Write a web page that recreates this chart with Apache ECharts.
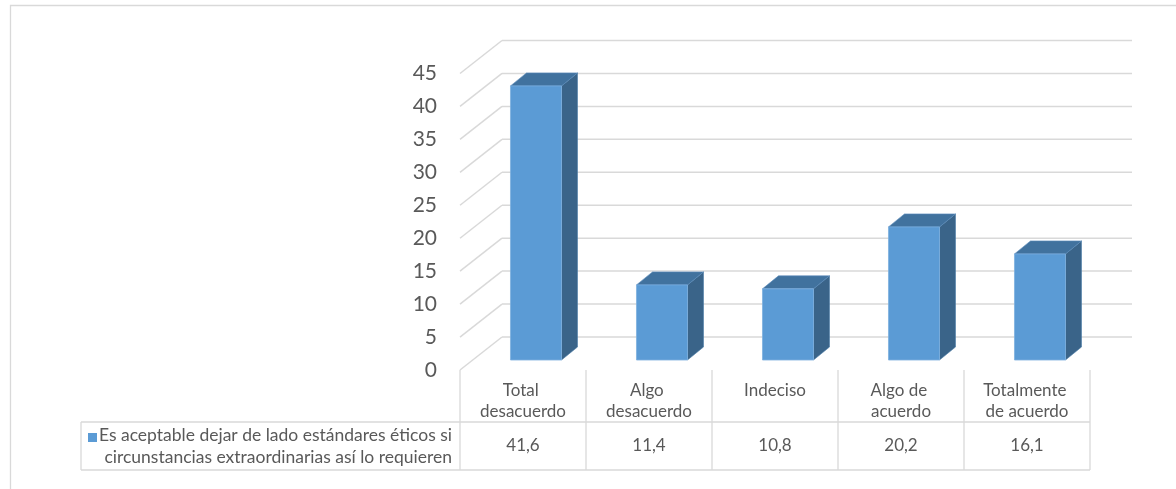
<!DOCTYPE html>
<html>
<head>
<meta charset="utf-8">
<script src="https://cdn.jsdelivr.net/npm/echarts@6/dist/echarts.min.js"></script>
<style>
  html, body { margin: 0; padding: 0; background: #ffffff; }
  #chart { width: 1176px; height: 489px; }
</style>
</head>
<body>
<div id="chart"></div>
<script>
// Survey responses (percent)
const categories = ['Total desacuerdo', 'Algo desacuerdo', 'Indeciso', 'Algo de acuerdo', 'Totalmente de acuerdo'];
const values = [41.6, 11.4, 10.8, 20.2, 16.1];
const seriesLines = ['Es aceptable dejar de lado estándares éticos si', 'circunstancias extraordinarias así lo requieren'];
const yTicks = [0, 5, 10, 15, 20, 25, 30, 35, 40, 45];

const FONT = 'Lato, "Open Sans", sans-serif';
const TEXT = '#595959';
const GRIDC = '#D9D9D9';
const BAR_FRONT = '#5B9BD5';
const BAR_SIDE = '#3A6489';
const BAR_TOP = '#41729E';

// pseudo-3D depth: wall depth and the slice of it that each bar occupies
const WALL = { dx: 42, dy: -33 };
const FACE = { dx: 13, dy: -10 };
const BACK = { dx: 29, dy: -23 };

const fmt = v => String(v).replace('.', ',');

const chart = echarts.init(document.getElementById('chart'), null, { renderer: 'canvas' });

function renderBar(params, api) {
  const i = api.value(0), v = api.value(1);
  const top = api.coord([i, v]);
  const base = api.coord([i, 0]);
  const bw = api.size([1, 0])[0] * 0.405;
  const xL = top[0] - bw / 2 + FACE.dx, xR = top[0] + bw / 2 + FACE.dx;
  const yT = top[1] + FACE.dy, yB = base[1] + FACE.dy;
  const ddx = BACK.dx - FACE.dx, ddy = BACK.dy - FACE.dy;
  return {
    type: 'group',
    children: [
      { type: 'polygon', shape: { points: [[xR, yT], [xR + ddx, yT + ddy], [xR + ddx, yB + ddy], [xR, yB]] },
        style: { fill: BAR_SIDE, stroke: '#4E7DA8', lineWidth: 0.6 } },
      { type: 'polygon', shape: { points: [[xL, yT], [xL + ddx, yT + ddy], [xR + ddx, yT + ddy], [xR, yT]] },
        style: { fill: BAR_TOP, stroke: '#5A8CBC', lineWidth: 0.6 } },
      { type: 'rect', shape: { x: xL, y: yT, width: bw, height: yB - yT },
        style: { fill: BAR_FRONT, stroke: '#7DB0E0', lineWidth: 0.8 } }
    ]
  };
}

const ROW = { top: 422, bottom: 470, left: 81 };
const ROW_MID = (ROW.top + ROW.bottom) / 2;

function renderValueCell(params, api) {
  const i = api.value(0);
  const p = api.coord([i, 0]);
  return {
    type: 'text',
    style: { text: fmt(values[i]), x: p[0], y: ROW_MID, align: 'center', verticalAlign: 'middle',
             fill: TEXT, font: '17px ' + FONT }
  };
}

chart.setOption({
  animation: false,
  backgroundColor: '#ffffff',
  grid: { left: 460, width: 630, top: 73.5, height: 296.5 },
  xAxis: {
    type: 'category',
    data: categories,
    axisLine: { show: false },
    axisTick: { show: false },
    splitLine: { show: false },
    axisLabel: {
      interval: 0, margin: 10, color: TEXT, fontFamily: FONT, fontSize: 17, lineHeight: 21,
      width: 108, overflow: 'break', align: 'center'
    }
  },
  yAxis: {
    type: 'value', min: 0, max: 45, interval: 5,
    axisLine: { show: false },
    axisTick: { show: false },
    splitLine: { show: false },
    axisLabel: { margin: 23, color: TEXT, fontFamily: FONT, fontSize: 21 }
  },
  series: [
    { type: 'custom', name: seriesLines.join(' '), renderItem: renderBar,
      data: values.map((v, i) => [i, v]), z: 5 },
    { type: 'custom', renderItem: renderValueCell,
      data: values.map((v, i) => [i, v]), z: 5 }
  ]
});

// walls, table grid and row header, placed from the axis scales
const px = v => chart.convertToPixel({ yAxisIndex: 0 }, v);
const gridLeft = 460, gridRight = 1090;
const band = (gridRight - gridLeft) / categories.length;
const floorY = px(0);
const line = (x1, y1, x2, y2, w) => ({
  type: 'line', silent: true, z: 1,
  shape: { x1, y1, x2, y2 }, style: { stroke: GRIDC, lineWidth: w || 1.3 }
});

const g = [];
// outer frame of the chart area
g.push({ type: 'polyline', silent: true, shape: { points: [[10.5, 489], [10.5, 5.5], [1176, 5.5]] },
         style: { stroke: GRIDC, lineWidth: 1.3, fill: null } });
yTicks.forEach(v => {
  const y = px(v);
  g.push(line(gridLeft, y, gridLeft + WALL.dx, y + WALL.dy, 1.5));
  g.push(line(gridLeft + WALL.dx, y + WALL.dy, gridRight + WALL.dx, y + WALL.dy, 1.5));
});
for (let k = 0; k <= categories.length; k++) {
  const x = gridLeft + k * band;
  g.push(line(x, floorY, x, ROW.bottom));
}
g.push(line(ROW.left, ROW.top, gridRight, ROW.top));
g.push(line(ROW.left, ROW.bottom, gridRight, ROW.bottom));
g.push(line(ROW.left, ROW.top, ROW.left, ROW.bottom));
g.push({ type: 'rect', silent: true, shape: { x: 88, y: 433, width: 9, height: 9 }, style: { fill: BAR_FRONT } });
g.push({ type: 'text', silent: true,
         style: { text: seriesLines.join('\n'), x: 452, y: ROW_MID, align: 'right', verticalAlign: 'middle',
                  lineHeight: 22, fill: TEXT, font: '17.5px ' + FONT } });

chart.setOption({ graphic: g });
</script>
</body>
</html>
